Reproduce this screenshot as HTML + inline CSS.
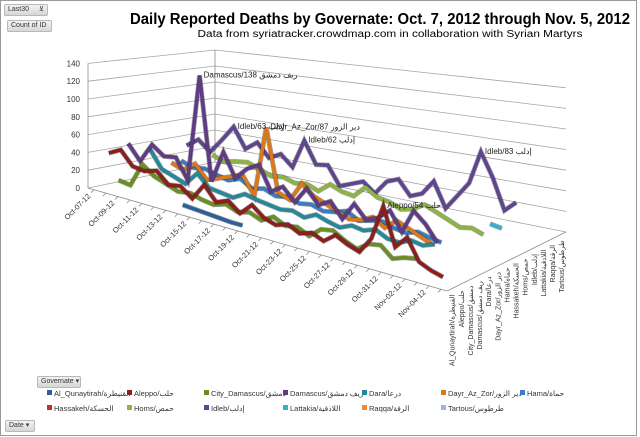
<!DOCTYPE html>
<html><head><meta charset="utf-8">
<style>
html,body{margin:0;padding:0;background:#fff;}
body{width:640px;height:437px;overflow:hidden;position:relative;font-family:"Liberation Sans","Noto Sans CJK SC",sans-serif;}
.btn{position:absolute;background:linear-gradient(#f2f2f2,#d6d6d6);border:1px solid #b8b8b8;border-radius:2px;font-size:7px;color:#333;line-height:10px;padding:0 3px;white-space:nowrap;z-index:2;}
svg{position:absolute;left:0;top:0;}
</style></head>
<body>
<svg id="chart" width="640" height="437">
<rect x="0.5" y="0.5" width="636" height="435" fill="none" stroke="#999"/>
<text x="380" y="24" text-anchor="middle" font-size="16" font-weight="bold" fill="#000" textLength="500" lengthAdjust="spacingAndGlyphs">Daily Reported Deaths by Governate: Oct. 7, 2012 through Nov. 5, 2012</text>
<text x="390" y="37" text-anchor="middle" font-size="10" fill="#000" textLength="385" lengthAdjust="spacingAndGlyphs">Data from syriatracker.crowdmap.com in collaboration with Syrian Martyrs</text>
<g id="grid"></g><g id="axes"></g><g id="series"></g><g id="labels"></g><g id="legend"></g>
</svg>
<div class="btn" style="left:4px;top:4px;width:36px;height:10px;">Last30 <span style="float:right">⊻</span></div>
<div class="btn" style="left:7px;top:20px;width:37px;height:10px;">Count of ID</div>
<div class="btn" style="left:37px;top:376px;width:36px;height:10px;">Governate ▾</div>
<div class="btn" style="left:5px;top:420px;width:22px;height:10px;">Date ▾</div>
<script>
const dates=["Oct-07-12","Oct-08-12","Oct-09-12","Oct-10-12","Oct-11-12","Oct-12-12","Oct-13-12","Oct-14-12","Oct-15-12","Oct-16-12","Oct-17-12","Oct-18-12","Oct-19-12","Oct-20-12","Oct-21-12","Oct-22-12","Oct-23-12","Oct-24-12","Oct-25-12","Oct-26-12","Oct-27-12","Oct-28-12","Oct-29-12","Oct-30-12","Oct-31-12","Nov-01-12","Nov-02-12","Nov-03-12","Nov-04-12","Nov-05-12"];
const seriesNames=["Al_Qunaytirah/القنيطرة","Aleppo/حلب","City_Damascus/دمشق","Damascus/ريف دمشق","Dara/درعا","Dayr_Az_Zor/دير الزور","Hama/حماة","Hassakeh/الحسكة","Homs/حمص","Idleb/إدلب","Lattakia/اللاذقية","Raqqa/الرقة","Tartous/طرطوس"];
const seriesColors=["#2f5f98","#8b1e1e","#6b8e23","#5e3c84","#25879a","#d9781c","#3a7cc0","#c0302e","#8db443","#5f4590","#36b0cf","#f08a2a","#9fb5d8"];
const valueTicks=[0,20,40,60,80,100,120,140];
const N=null;
const vAlQunaytirah=[N,N,N,N,N,N,N,8,7,6,5,4,4,N,N,N,N,N,N,N,N,N,N,N,N,N,N,N,N,N];
const vAleppo=[38,45,30,28,32,20,22,12,30,15,20,10,22,12,8,12,6,10,5,14,8,4,20,54,18,30,10,5,2,N];
const vCityDamascus=[5,3,30,20,15,10,12,8,6,10,5,8,3,10,4,6,0,10,12,5,0,8,10,0,4,6,N,N,N,N];
const vDamascus=[45,28,50,40,42,20,138,25,60,35,48,55,30,38,25,42,28,35,20,38,25,30,40,22,45,35,20,N,N,N];
const vDara=[N,40,20,15,10,25,12,10,8,15,12,10,8,10,6,12,8,5,10,8,12,6,5,10,8,12,N,N,N,N];
const vDayr=[N,N,25,20,30,15,20,25,30,10,87,20,15,35,25,20,15,10,12,18,10,20,15,10,5,N,N,N,N,N];
const vHama=[N,N,25,20,22,18,15,20,12,15,10,12,8,10,6,8,12,5,8,10,6,4,8,5,3,N,N,N,N,N];
const vHassakeh=[N,N,N,N,N,N,N,N,N,N,N,N,N,N,N,N,N,N,N,N,N,N,N,N,N,N,N,N,N,N];
const vHoms=[N,N,N,30,25,28,30,25,20,22,18,20,15,25,20,18,30,22,20,15,18,25,20,15,10,12,8,N,N,N];
const vIdleb=[30,40,28,45,63,40,50,35,42,30,62,38,40,20,25,30,20,35,40,25,30,45,20,35,50,83,60,30,40,N];
const vLattakia=[N,N,N,N,N,N,N,N,N,N,N,N,N,N,N,N,N,N,N,N,N,N,N,N,N,8,6,N,N,N];
const vRaqqa=[N,N,N,N,N,N,N,N,N,N,N,N,N,N,N,N,N,N,N,N,N,N,N,N,N,N,N,N,N,N];
const vTartous=[N,N,N,N,N,N,N,N,N,N,N,N,N,N,N,N,N,N,N,N,N,N,N,N,N,N,N,N,N,N];
const allValues=[vAlQunaytirah,vAleppo,vCityDamascus,vDamascus,vDara,vDayr,vHama,vHassakeh,vHoms,vIdleb,vLattakia,vRaqqa,vTartous];
const annotSeries=[3,9,5,9,1,9];
const annotDate=[6,4,10,10,23,25];
const annotText=["ريف دمشق","إدلب","دير الزور","إدلب","حلب","إدلب"];

const NS="http://www.w3.org/2000/svg";
const FL=[88,188],FR=[447,291],BL=[215,162],BR=[566,232];
function lerp(a,b,t){return a+(b-a)*t;}
function proj(t,u,v){
  const fx=lerp(FL[0],FR[0],t),fy=lerp(FL[1],FR[1],t);
  const bx=lerp(BL[0],BR[0],t),by=lerp(BL[1],BR[1],t);
  const sc=lerp(lerp(0.89,1.1,t),lerp(0.8,1.03,t),u);
  return [lerp(fx,bx,u),lerp(fy,by,u)-v*sc];
}
function dT(d){return (d+0.5)/dates.length;}
function sU(s){return 0.04+0.92*s/(seriesNames.length-1);}
function mk(tag,attrs,parent){const e=document.createElementNS(NS,tag);for(const k in attrs)e.setAttribute(k,attrs[k]);parent.appendChild(e);return e;}
const grid=document.getElementById('grid'),axes=document.getElementById('axes'),ser=document.getElementById('series'),lab=document.getElementById('labels'),leg=document.getElementById('legend');
valueTicks.forEach(v=>{
  const a=proj(0,0,v),b=proj(0,1,v),c=proj(1,1,v);
  const pl=mk('polyline',{points:`${a} ${b} ${c}`,fill:'none',stroke:'#a6a6a6','stroke-width':0.8},grid);
  
  
  const t=mk('text',{x:a[0]-8,y:a[1]+3,'text-anchor':'end','font-size':8,fill:'#333'},axes);
  t.textContent=v;
  
  
});
[[proj(0,0,0),proj(0,0,140)],[proj(0,1,0),proj(0,1,140)],[proj(0,0,0),proj(1,0,0)],[proj(1,0,0),proj(1,1,0)]].forEach(([p,q])=>{
  const l=mk('line',{x1:p[0],y1:p[1],x2:q[0],y2:q[1],stroke:'#8c8c8c','stroke-width':0.8},axes);
  
  
});
dates.forEach((d,i)=>{
  const p=proj(dT(i),0,0);
  const tk=mk('line',{x1:p[0],y1:p[1],x2:p[0]-3,y2:p[1]+3,stroke:'#8c8c8c','stroke-width':0.8},axes);
  
  
  if(i%2==0){
    const t=mk('text',{x:p[0]-3,y:p[1]+7,'text-anchor':'end','font-size':7.5,fill:'#333',transform:`rotate(-45 ${p[0]-3} ${p[1]+7})`},axes);
    t.textContent=d;
    
    
  }
});
seriesNames.forEach((n,s)=>{
  const p=proj(1,sU(s),0);
  const x=p[0]+3,y=p[1]+6;
  const t=mk('text',{x:x,y:y,'text-anchor':'end','font-size':7,fill:'#333',transform:`rotate(-90 ${x} ${y})`,direction:'ltr'},axes);
  t.textContent=n;
  
  
});
for(let s=seriesNames.length-1;s>=0;s--){
  const vals=allValues[s];let seg=[];
  const flush=()=>{if(seg.length>1){
    const pts=seg.map(p=>p.join(',')).join(' ');
    const sh=mk('polyline',{points:pts,fill:'none',stroke:'#000','stroke-opacity':0.35,'stroke-width':5,'stroke-linejoin':'miter'},ser);
    
    
    const pl=mk('polyline',{points:pts,fill:'none',stroke:seriesColors[s],'stroke-width':3.6,'stroke-linejoin':'miter'},ser);
    
    
  }seg=[];};
  vals.forEach((v,i)=>{if(v===null){flush();}else seg.push(proj(dT(i),sU(s),v));});
  flush();
}
annotSeries.forEach((s,k)=>{
  const d=annotDate[k],v=allValues[s][d];
  const p=proj(dT(d),sU(s),v);
  const t=mk('text',{x:p[0]+4,y:p[1]+2,'font-size':8,fill:'#222'},lab);
  t.textContent=seriesNames[s].split('/')[0]+'/'+v+' '+annotText[k];
  
  
});
const legX=[47,127,204,283,362,441,520];
seriesNames.forEach((n,s)=>{
  const row=s<7?0:1,col=s<7?s:s-7;
  const x=legX[col],y=row?411:396;
  const r=mk('rect',{x:x,y:y-6,width:5,height:5,fill:seriesColors[s]},leg);
  
  
  const t=mk('text',{x:x+7,y:y,'font-size':7.5,fill:'#333'},leg);
  t.textContent=n;
  
  
});
</script>
</body></html>
